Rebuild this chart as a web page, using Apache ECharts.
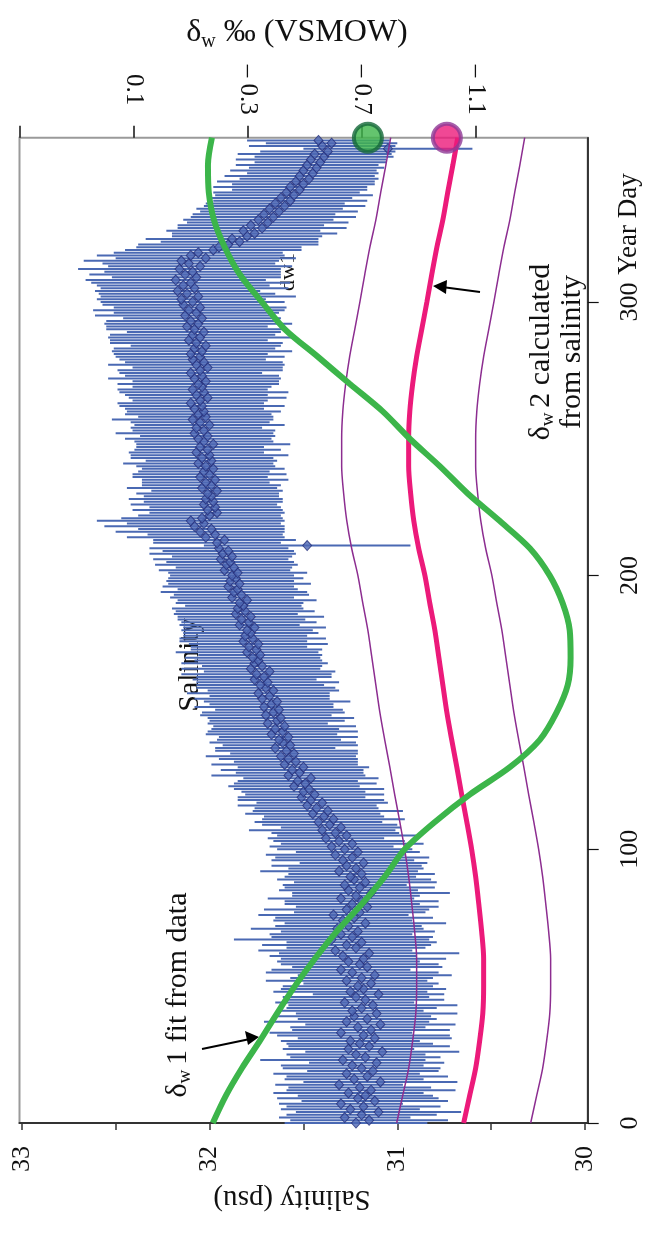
<!DOCTYPE html>
<html><head><meta charset="utf-8">
<script src="https://cdn.jsdelivr.net/npm/echarts@6/dist/echarts.min.js"></script>
<style>html,body{margin:0;padding:0;background:#fff}#c{width:647px;height:1236px}</style>
</head><body><div id="c"></div>
<script>
// ---- data ----
// daily salinity (psu), day = index (0..359)
const salinity = [
31.22,31.15,31.28,31.19,31.10,31.25,31.18,31.30,31.12,31.21,
31.17,31.26,31.14,31.20,31.31,31.09,31.23,31.16,31.27,31.13,
31.19,31.24,31.11,31.29,31.17,31.22,31.08,31.26,31.15,31.20,
31.25,31.12,31.18,31.30,31.14,31.21,31.09,31.27,31.16,31.23,
31.11,31.24,31.19,31.13,31.28,31.17,31.22,31.10,31.25,31.18,
31.21,31.14,31.27,31.19,31.12,31.24,31.30,31.16,31.20,31.26,
31.18,31.29,31.15,31.33,31.22,31.27,31.19,31.35,31.24,31.30,
31.21,31.32,31.26,31.17,31.29,31.23,31.34,31.20,31.27,31.16,
31.24,31.19,31.30,31.22,31.14,31.26,31.20,31.28,31.17,31.23,
31.25,31.19,31.31,31.22,31.27,31.18,31.29,31.24,31.33,31.21,
31.28,31.35,31.24,31.31,31.38,31.27,31.33,31.40,31.30,31.36,
31.42,31.34,31.39,31.45,31.37,31.43,31.48,31.40,31.46,31.51,
31.44,31.50,31.47,31.55,31.49,31.53,31.46,31.58,31.52,31.56,
31.50,31.60,31.54,31.58,31.62,31.55,31.59,31.65,31.57,31.61,
31.63,31.58,31.67,31.61,31.65,31.60,31.69,31.64,31.62,31.70,
31.66,31.63,31.71,31.67,31.64,31.72,31.68,31.74,31.66,31.70,
31.73,31.69,31.76,31.71,31.75,31.68,31.78,31.72,31.76,31.74,
31.77,31.73,31.80,31.75,31.79,31.74,31.82,31.77,31.81,31.78,
31.80,31.76,31.84,31.79,31.83,31.78,31.86,31.81,31.85,31.82,
31.84,31.80,31.88,31.83,31.87,31.85,31.90,31.84,31.89,31.86,
31.88,31.85,31.92,31.87,31.91,31.89,31.94,31.88,31.93,31.90,
31.95,31.48,31.96,31.92,32.02,31.97,32.05,31.99,32.08,32.03,
32.10,32.04,32.00,31.96,32.01,31.97,32.03,31.98,32.02,31.99,
32.01,31.96,32.04,31.99,32.02,31.97,32.05,32.00,32.03,31.98,
32.02,32.06,31.99,32.04,32.00,32.07,32.01,32.05,31.98,32.03,
32.06,32.01,32.08,32.03,32.07,32.00,32.05,32.09,32.02,32.06,
32.03,32.08,32.04,32.10,32.05,32.01,32.07,32.03,32.09,32.04,
32.06,32.02,32.08,32.04,32.10,32.05,32.01,32.07,32.03,32.09,
32.05,32.10,32.04,32.08,32.02,32.07,32.11,32.05,32.09,32.03,
32.08,32.12,32.06,32.10,32.04,32.13,32.07,32.11,32.05,32.14,
32.09,32.15,32.06,32.12,32.17,32.08,32.14,32.10,32.18,32.07,
32.13,32.09,32.16,32.05,32.11,32.15,32.02,32.10,32.06,31.98,
31.95,31.90,31.84,31.88,31.80,31.76,31.82,31.72,31.78,31.69,
31.74,31.66,31.71,31.63,31.68,31.60,31.65,31.57,31.62,31.55,
31.59,31.52,31.57,31.50,31.54,31.47,31.52,31.45,31.50,31.43,
31.48,31.41,31.46,31.39,31.44,31.37,31.05,31.40,31.35,31.42
];
// half-width of the salinity error bar (psu)
const salinityErr = [
0.38,0.42,0.35,0.40,0.44,0.37,0.41,0.33,0.39,0.43,
0.36,0.40,0.45,0.38,0.34,0.41,0.37,0.43,0.39,0.35,
0.42,0.38,0.36,0.44,0.40,0.37,0.41,0.35,0.43,0.39,
0.37,0.41,0.46,0.38,0.42,0.36,0.40,0.44,0.37,0.41,
0.43,0.38,0.40,0.45,0.37,0.42,0.39,0.35,0.41,0.44,
0.40,0.36,0.43,0.38,0.41,0.46,0.37,0.40,0.42,0.38,
0.44,0.39,0.48,0.41,0.37,0.45,0.40,0.52,0.43,0.38,
0.41,0.46,0.39,0.43,0.37,0.42,0.40,0.35,0.44,0.38,
0.36,0.41,0.39,0.34,0.42,0.37,0.40,0.33,0.38,0.41,
0.35,0.39,0.42,0.36,0.40,0.34,0.38,0.41,0.37,0.33,
0.36,0.33,0.38,0.35,0.31,0.37,0.34,0.39,0.32,0.36,
0.34,0.38,0.32,0.36,0.40,0.33,0.37,0.35,0.39,0.34,
0.37,0.33,0.40,0.35,0.38,0.32,0.36,0.41,0.34,0.38,
0.35,0.39,0.33,0.37,0.40,0.34,0.38,0.32,0.36,0.39,
0.33,0.37,0.35,0.40,0.34,0.38,0.32,0.36,0.39,0.35,
0.38,0.34,0.37,0.33,0.39,0.36,0.32,0.38,0.35,0.37,
0.34,0.38,0.33,0.36,0.40,0.35,0.37,0.32,0.39,0.34,
0.36,0.33,0.38,0.35,0.31,0.37,0.34,0.39,0.33,0.36,
0.35,0.38,0.32,0.36,0.34,0.39,0.33,0.37,0.35,0.31,
0.34,0.37,0.33,0.36,0.39,0.32,0.35,0.38,0.34,0.36,
0.33,0.37,0.35,0.31,0.38,0.34,0.36,0.32,0.39,0.35,
0.37,0.55,0.34,0.38,0.42,0.36,0.45,0.39,0.48,0.41,
0.50,0.43,0.38,0.36,0.40,0.35,0.39,0.37,0.41,0.36,
0.38,0.35,0.40,0.37,0.34,0.39,0.36,0.41,0.35,0.38,
0.37,0.40,0.35,0.38,0.42,0.36,0.39,0.34,0.41,0.37,
0.39,0.36,0.42,0.38,0.35,0.40,0.37,0.43,0.36,0.39,
0.41,0.37,0.44,0.39,0.36,0.42,0.38,0.45,0.40,0.37,
0.43,0.39,0.46,0.41,0.38,0.44,0.40,0.47,0.42,0.39,
0.45,0.41,0.48,0.43,0.40,0.46,0.42,0.49,0.44,0.41,
0.47,0.43,0.50,0.45,0.42,0.48,0.44,0.51,0.46,0.43,
0.49,0.45,0.52,0.47,0.44,0.50,0.46,0.53,0.48,0.45,
0.51,0.47,0.54,0.49,0.46,0.52,0.48,0.50,0.45,0.47,
0.44,0.48,0.42,0.46,0.40,0.44,0.41,0.45,0.39,0.43,
0.40,0.44,0.38,0.42,0.39,0.43,0.37,0.41,0.38,0.42,
0.39,0.36,0.41,0.38,0.42,0.37,0.40,0.35,0.39,0.36,
0.38,0.35,0.40,0.37,0.41,0.36,0.45,0.39,0.35,0.38
];
// curves sampled every 10 days
const curveDays = [0,10,20,30,40,50,60,70,80,90,100,110,120,130,140,150,160,170,180,190,200,210,220,230,240,250,260,270,280,290,300,310,320,330,340,350,360];
const dw1Fit = [-0.178,-0.224,-0.280,-0.343,-0.403,-0.466,-0.536,-0.613,-0.701,-0.781,-0.851,-0.957,-1.079,-1.220,-1.325,-1.384,-1.423,-1.433,-1.430,-1.405,-1.360,-1.290,-1.184,-1.072,-0.974,-0.869,-0.774,-0.659,-0.546,-0.431,-0.350,-0.273,-0.220,-0.182,-0.164,-0.161,-0.175];
const dw2Calc = [-1.058,-1.079,-1.100,-1.114,-1.125,-1.128,-1.128,-1.121,-1.111,-1.100,-1.086,-1.069,-1.051,-1.034,-1.016,-0.999,-0.985,-0.971,-0.957,-0.939,-0.922,-0.900,-0.883,-0.872,-0.865,-0.865,-0.869,-0.879,-0.893,-0.911,-0.929,-0.946,-0.964,-0.985,-1.002,-1.020,-1.037];
const dw2High = [-0.823,-0.844,-0.865,-0.879,-0.890,-0.893,-0.893,-0.886,-0.876,-0.865,-0.851,-0.834,-0.816,-0.799,-0.781,-0.764,-0.750,-0.736,-0.722,-0.704,-0.687,-0.665,-0.648,-0.637,-0.630,-0.630,-0.634,-0.644,-0.658,-0.676,-0.694,-0.711,-0.729,-0.750,-0.767,-0.785,-0.802];
const dw2Low = [-1.293,-1.314,-1.335,-1.349,-1.360,-1.363,-1.363,-1.356,-1.346,-1.335,-1.321,-1.304,-1.286,-1.269,-1.251,-1.234,-1.220,-1.206,-1.192,-1.174,-1.157,-1.135,-1.118,-1.107,-1.100,-1.100,-1.104,-1.114,-1.128,-1.146,-1.164,-1.181,-1.199,-1.220,-1.237,-1.255,-1.272];
// measured end-of-year values (δw, day)
const dw1End = [-0.722, 360];
const dw2End = [-0.999, 360];
// ticks
const salTicks = [30,30.5,31,31.5,32,32.5,33];
const salLabels = [30,31,32,33];
const dwTicks = [-1.5,-1.1,-0.7,-0.3,0.1,0.5];
const dwLabels = [-1.1,-0.7,-0.3,0.1];
const dayTicks = [0,100,200,300];

const FONT = 'Liberation Serif, Times New Roman, serif';
const chart = echarts.init(document.getElementById('c'), null, {renderer:'canvas'});
const errData = salinity.map((s,i)=>[s, i, salinityErr[i]]);
const ptData = salinity.map((s,i)=>[s, i]);
const pair = (arr)=>curveDays.map((d,i)=>[arr[i], d]);

const rot = Math.PI/2;
const subRich = (big, small, pad)=>({d:{fontFamily:FONT, fontSize:big, fill:'#111'}, s:{fontFamily:FONT, fontSize:small, fill:'#111', padding:[pad,0,0,0]}});
chart.setOption({
  animation:false,
  backgroundColor:'#fff',
  grid:{left:19.5, top:137.7, right:59.3, bottom:113, show:true, borderColor:'#9a9a9a', borderWidth:2, backgroundColor:'transparent'},
  xAxis:[
    {type:'value', position:'bottom', min:29.986, max:33.012, inverse:true,
     axisLine:{show:true, onZero:false, lineStyle:{color:'#333', width:2}},
     axisTick:{show:true, customValues:salTicks, length:7, lineStyle:{color:'#333', width:1.5}},
     axisLabel:{customValues:salLabels, rotate:90, margin:36, align:'center', verticalAlign:'middle', fontFamily:FONT, fontSize:26, color:'#111'},
     splitLine:{show:false}},
    {type:'value', position:'top', min:-1.493, max:0.5, inverse:true,
     axisLine:{show:false, onZero:false},
     axisTick:{show:true, customValues:dwTicks, length:12, lineStyle:{color:'#111', width:1.5}},
     axisLabel:{customValues:dwLabels, rotate:90, margin:48, align:'center', verticalAlign:'middle', fontFamily:FONT, fontSize:25, color:'#111',
       formatter:v=>(v<0?'\u2013 ':'')+Math.abs(v).toFixed(1)},
     splitLine:{show:false}}
  ],
  yAxis:[{type:'value', position:'right', min:0, max:360,
     axisLine:{show:true, onZero:false, lineStyle:{color:'#111', width:1.5}},
     axisTick:{show:true, customValues:dayTicks, length:11, lineStyle:{color:'#111', width:1.2}},
     axisLabel:{customValues:dayTicks, rotate:90, margin:42, align:'center', verticalAlign:'middle', fontFamily:FONT, fontSize:26, color:'#111'},
     splitLine:{show:false}}],
  series:[
    {type:'custom', xAxisIndex:0, yAxisIndex:0, data:errData, encode:{x:0,y:1}, z:2,
     renderItem:(params, api)=>{
       const s=api.value(0), d=api.value(1), e=api.value(2);
       const a=api.coord([s-e,d]), b=api.coord([s+e,d]);
       return {type:'line', shape:{x1:a[0],y1:a[1],x2:b[0],y2:b[1]}, style:{stroke:'#4a69b3', lineWidth:2}};
     }},
    {type:'scatter', xAxisIndex:0, yAxisIndex:0, data:ptData, symbol:'diamond', symbolSize:[9,10], z:3,
     itemStyle:{color:'#4e68b4', borderColor:'#25307a', borderWidth:1}},
    {type:'line', xAxisIndex:1, yAxisIndex:0, data:pair(dw2High), showSymbol:false, symbol:'none', smooth:0.3, z:4,
     lineStyle:{color:'#8c2d90', width:1.5}},
    {type:'line', xAxisIndex:1, yAxisIndex:0, data:pair(dw2Low), showSymbol:false, symbol:'none', smooth:0.3, z:4,
     lineStyle:{color:'#8c2d90', width:1.5}},
    {type:'line', xAxisIndex:1, yAxisIndex:0, data:pair(dw2Calc), showSymbol:false, symbol:'none', smooth:0.3, z:5,
     lineStyle:{color:'#ec1a7a', width:5}},
    {type:'line', xAxisIndex:1, yAxisIndex:0, data:pair(dw1Fit), showSymbol:false, symbol:'none', smooth:0.3, z:6,
     lineStyle:{color:'#3cb54a', width:6}},
    {type:'scatter', xAxisIndex:1, yAxisIndex:0, data:[dw1End], symbol:'circle', symbolSize:28, clip:false, z:8,
     itemStyle:{color:'#3db54a', borderColor:'#15683a', borderWidth:4}},
    {type:'scatter', xAxisIndex:1, yAxisIndex:0, data:[dw2End], symbol:'circle', symbolSize:28, clip:false, z:8,
     itemStyle:{color:'#ec1a7a', borderColor:'#8e3a96', borderWidth:4}}
  ],
  graphic:[
    {type:'text', x:297, y:33, style:{text:'{d|δ}{s|w}{d| ‰ (VSMOW)}', align:'center', verticalAlign:'middle', rich:subRich(32,20,17)}},
    {type:'text', x:292, y:1199, rotation:Math.PI, style:{text:'Salinity (psu)', align:'center', verticalAlign:'middle', font:'29px '+FONT, fill:'#111'}},
    {type:'text', x:629, y:224, rotation:rot, style:{text:'Year Day', align:'center', verticalAlign:'middle', font:'27px '+FONT, fill:'#111'}},
    {type:'text', x:190, y:665, rotation:rot, style:{text:'Salinity', align:'center', verticalAlign:'middle', font:'30px '+FONT, fill:'#111'}},
    {type:'text', x:288, y:272, rotation:rot, z:-1, style:{text:'dw1', align:'center', verticalAlign:'middle', font:'22px '+FONT, fill:'#111'}},
    {type:'text', x:178, y:995, rotation:rot, style:{text:'{d|δ}{s|w }{d|1 fit from data}', align:'center', verticalAlign:'middle', rich:subRich(30,19,15)}},
    {type:'text', x:541, y:352, rotation:rot, style:{text:'{d|δ}{s|w }{d|2 calculated}', align:'center', verticalAlign:'middle', rich:subRich(30,19,15)}},
    {type:'text', x:572, y:352, rotation:rot, style:{text:'from salinity', align:'center', verticalAlign:'middle', font:'30px '+FONT, fill:'#111'}},
    {type:'line', shape:{x1:202, y1:1049, x2:250, y2:1039}, style:{stroke:'#000', lineWidth:2}},
    {type:'polygon', shape:{points:[[259,1037],[245,1031],[248,1045]]}, style:{fill:'#000'}},
    {type:'line', shape:{x1:480, y1:292, x2:442, y2:287}, style:{stroke:'#000', lineWidth:2}},
    {type:'polygon', shape:{points:[[433,286],[447,280],[446,294]]}, style:{fill:'#000'}}
  ]
});
</script></body></html>
